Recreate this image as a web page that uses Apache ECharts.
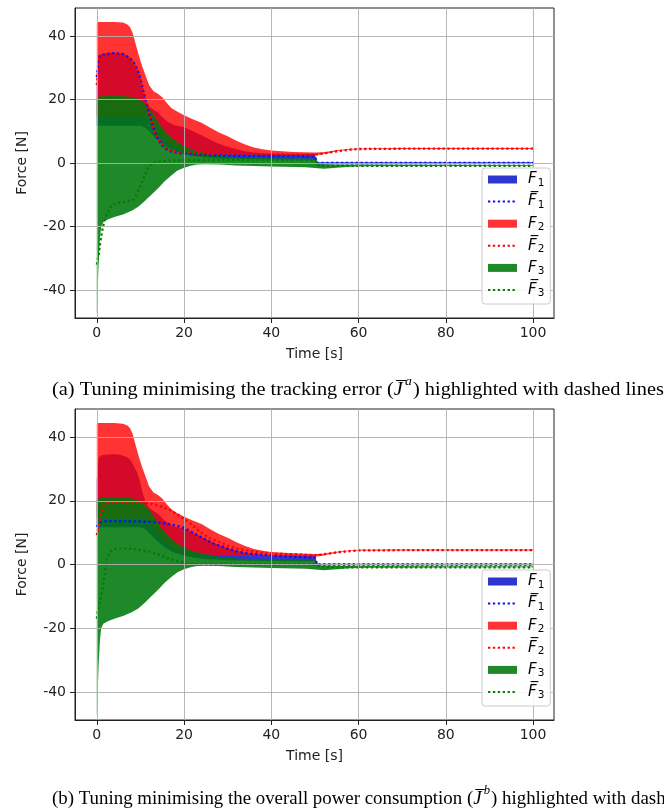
<!DOCTYPE html>
<html lang="en">
<head>
	<meta charset="UTF-8">
	<script src="https://cdn.jsdelivr.net/npm/echarts@6/dist/echarts.min.js"></script>
	<title>Force bands</title>
	<style>
		html, body { margin: 0; padding: 0; background: #fff; }
	</style>
</head>
<body>
<div id="main" style="width: 664px;height:812px;"></div>
<script type="text/javascript">
	// tick positions
	var xTicks = [0, 20, 40, 60, 80, 100];
	var yTicks = [-40, -20, 0, 20, 40];

	// envelope of F1 over all tunings [t, N]
	var f1Upper = [[0,26.5],[0.4,33.5],[1,34.3],[3,34.6],[5,34.5],[6.5,34],[7.6,33],[8.4,31.2],[9.2,29],[9.8,26.5],[10.5,22.5],[11.2,19.5],[12,17.8],[13,16.8],[14,16],[15,14.5],[16,13.3],[17,12.4],[18,11.8],[20,11.3],[22,10],[24,8.7],[26,7.3],[28,6.1],[30,5.1],[32,4.3],[34,3.7],[36,3.3],[40,2.9],[45,2.8],[50,2.8],[50.5,0.2],[100,0.2]];
	var f1Lower = [[0,11.7],[10,11.7],[11,11.2],[12,10],[13,8.5],[14,7.2],[15,6],[16,5],[17,4.2],[18,3.6],[20,2.8],[22,2.2],[25,1.7],[30,1.3],[40,1.1],[50,1.0],[50.5,-0.2],[100,-0.2]];
	// envelope of F2
	var f2Upper = [[0,44],[0.3,44.4],[4,44.4],[6,44.2],[7,43.6],[7.6,42.8],[8.2,41],[8.8,38],[9.6,34],[10.4,30.5],[11.2,27.5],[12,24.5],[13,22.6],[14,21.8],[15,20.7],[16,19],[17,17.4],[18,16.5],[20,15],[22,13.8],[24,12.7],[26,11.1],[28,9.6],[30,8.4],[32,7],[34,5.8],[36,4.9],[38,4.3],[40,3.9],[45,3.5],[50,3.3],[52,3.4],[55,4],[58,4.4],[60,4.6],[70,4.7],[100,4.7]];
	var f2Lower = [[0,14.6],[10.5,14.6],[11.5,14],[12.5,12.5],[13.5,10.5],[14.5,8.8],[15.5,7.3],[16.5,6.2],[17.5,5.3],[18.5,4.6],[20,4],[22,3.5],[25,3.1],[30,2.8],[40,2.6],[50,2.5],[51,2.6],[53,3.1],[55,3.7],[58,4.2],[60,4.3],[70,4.4],[100,4.4]];
	// envelope of F3
	var f3Upper = [[0,20.3],[1,21],[5,21.2],[8,20.8],[9.5,20.2],[10.5,19.3],[11.5,18],[12.5,16.3],[13.5,14.2],[14.5,12],[15.5,10.2],[16.5,8.7],[17.5,7.5],[18.5,6.5],[20,5.3],[22,4.2],[24,3.4],[26,2.8],[28,2.4],[32,1.9],[40,1.5],[50,1.3],[51,-0.3],[55,-0.5],[100,-0.6]];
	var f3Lower = [[0,-48],[0.2,-40],[0.4,-32],[0.7,-24],[1,-20],[1.5,-18.6],[2.5,-17.8],[4,-17],[6,-16.2],[8,-15],[9.5,-13.8],[11,-12],[12.5,-10],[14,-8],[15.5,-5.8],[17,-4],[18.5,-2.4],[20,-1.5],[21.5,-0.9],[23,-0.5],[25,-0.4],[28,-0.5],[32,-0.8],[40,-1.1],[48,-1.3],[50,-1.6],[52,-1.8],[55,-1.5],[58,-1.2],[62,-1.0],[100,-0.9]];

	// (a) tuning minimising the tracking error
	var aF1 = [[0,27],[0.3,30.5],[0.7,33.8],[2,34.3],[4,34.6],[6,34.3],[7.5,33.2],[8.5,31.5],[9.3,29.5],[10,26.5],[10.6,23],[11.2,19.8],[11.8,16.5],[12.5,13.2],[13.2,10.2],[14,7.5],[15,5.5],[16,4.3],[17,3.6],[19,3.1],[22,2.8],[26,2.5],[30,2.3],[40,2.2],[50,2.1],[50.5,0],[100,0]];
	var aF2 = [[0,24.5],[0.3,29],[0.7,33.5],[2,34.2],[4,34.5],[6,34.2],[7.5,33],[8.5,31.3],[9.3,29.3],[10,26.3],[10.6,22.8],[11.2,19.6],[11.8,16.3],[12.5,13.2],[13.2,10.3],[14,7.8],[15,5.8],[16,4.6],[17,3.9],[19,3.4],[22,3.1],[26,2.9],[30,2.8],[40,2.7],[50,2.6],[52,3.0],[55,3.7],[58,4.2],[60,4.4],[70,4.5],[100,4.5]];
	var aF3 = [[0,-32],[0.4,-29],[0.8,-25],[1.2,-21.5],[1.6,-19],[2.3,-15.8],[3.5,-13.2],[5,-12.5],[6.5,-12.2],[8.4,-11.5],[9.2,-9.8],[10,-7.2],[10.8,-4.5],[11.6,-2],[12.5,-0.2],[13.5,0.3],[16,0.7],[20,0.9],[30,1.0],[50,1.0],[51,-0.9],[100,-0.9]];

	// (b) tuning minimising the overall power consumption
	var bF1 = [[0,11.8],[0.5,12.8],[1,13.3],[2,13.6],[6,13.6],[10,13.5],[12,13.4],[14,13.2],[17,12.6],[20,11.5],[22,10],[24.4,8.2],[26.7,6.6],[28.2,5.9],[30,5],[32,4.1],[34,3.6],[36,3.3],[40,2.9],[45,2.4],[50,2.2],[50.5,0],[100,0]];
	var bF2 = [[0,9.2],[0.4,11.8],[0.9,15.5],[1.5,18.5],[2.5,19.4],[6,19.5],[10,19.4],[12,19.2],[14.5,18.3],[16.8,17.1],[19,15.3],[21.4,12.9],[23.7,10.2],[26,8.2],[28.2,7],[30,6],[32,5],[36,4.0],[40,3.4],[45,3.2],[50,2.9],[52,3.2],[55,3.8],[58,4.2],[60,4.4],[70,4.5],[100,4.5]];
	var bF3 = [[0,-17],[0.2,-15],[0.8,-11],[1.5,-6],[2,-1],[2.3,2],[3,4],[4,4.8],[5,5],[7,5],[9.2,4.7],[12.2,4],[14.5,3],[16.8,1.6],[19,0.9],[20.6,0.2],[25,0],[50,0],[51,-0.8],[60,-0.9],[100,-0.9]];

	var col1 = 'rgba(0,10,200,0.82)';
	var col2 = 'rgba(255,0,0,0.8)';
	var col3 = 'rgba(0,119,11,0.88)';
	var dot1 = '#1010ee';
	var dot2 = '#ff0000';
	var dot3 = '#008000';
	var ink = '#222';
	var font = 'DejaVu Sans';

	var chart = echarts.init(document.getElementById('main'));

	// filled band between two curves, mapped through the axes
	function band(name, upper, lower, color, idx) {
		return {
			type: 'custom',
			name: name,
			xAxisIndex: idx,
			yAxisIndex: idx,
			z: 1,
			silent: true,
			itemStyle: {color: color},
			data: [[50, 0]],
			renderItem: function (params, api) {
				var pts = [];
				upper.forEach(function (p) { pts.push(api.coord(p)); });
				lower.slice().reverse().forEach(function (p) { pts.push(api.coord(p)); });
				return {type: 'polygon', shape: {points: pts}, style: {fill: color}};
			}
		};
	}

	function dotted(name, data, color, idx) {
		return {
			type: 'line',
			name: name,
			xAxisIndex: idx,
			yAxisIndex: idx,
			z: 2,
			symbol: 'none',
			silent: true,
			data: data,
			lineStyle: {color: color, width: 2.3, type: [2.3, 2.6], cap: 'butt'},
			itemStyle: {color: color}
		};
	}

	function xAxisFor(idx) {
		return {
			type: 'value', gridIndex: idx, min: -5, max: 104.8, z: 3,
			name: 'Time [s]', nameLocation: 'middle', nameGap: 29,
			nameTextStyle: {fontSize: 14, color: ink, fontFamily: font},
			axisLine: {show: true, onZero: false, lineStyle: {color: ink, width: 1}},
			axisTick: {show: true, length: 5, customValues: xTicks, lineStyle: {color: ink}},
			axisLabel: {customValues: xTicks, fontSize: 14, color: ink, fontFamily: font, margin: 8},
			splitLine: {show: true, lineStyle: {color: 'rgba(176,176,176,0.9)', width: 1}}
		};
	}

	function yAxisFor(idx) {
		return {
			type: 'value', gridIndex: idx, min: -48.8, max: 48.8, z: 3,
			name: 'Force [N]', nameLocation: 'middle', nameGap: 46,
			nameTextStyle: {fontSize: 14, color: ink, fontFamily: font},
			axisLine: {show: true, onZero: false, lineStyle: {color: ink, width: 1}},
			axisTick: {show: true, length: 5, customValues: yTicks, lineStyle: {color: ink}},
			axisLabel: {customValues: yTicks, fontSize: 14, color: ink, fontFamily: font, margin: 9},
			splitLine: {show: true, lineStyle: {color: 'rgba(176,176,176,0.9)', width: 1}}
		};
	}

	function legendFor(top) {
		return {
			orient: 'vertical', left: 482, top: top,
			padding: [4, 6, 5, 5], itemGap: 5.6,
			itemWidth: 29, itemHeight: 8,
			backgroundColor: 'rgba(255,255,255,0.85)',
			borderColor: '#cccccc', borderWidth: 1, borderRadius: 3,
			selectedMode: false,
			data: [
				{name: 'F1', icon: 'rect', itemStyle: {color: col1}},
				{name: 'F1m', itemStyle: {opacity: 0}},
				{name: 'F2', icon: 'rect', itemStyle: {color: col2}},
				{name: 'F2m', itemStyle: {opacity: 0}},
				{name: 'F3', icon: 'rect', itemStyle: {color: col3}},
				{name: 'F3m', itemStyle: {opacity: 0}}
			],
			formatter: function (name) {
				var sub = name.charAt(1);
				var f = name.length > 2 ? 'F\u0305' : 'F';
				return '{f|' + f + '}{s|' + sub + '}';
			},
			textStyle: {
				color: '#000',
				rich: {
					f: {fontFamily: font, fontStyle: 'italic', fontSize: 15, lineHeight: 18, padding: [0, 0, 0, 6], color: '#000'},
					s: {fontFamily: font, fontSize: 10.5, padding: [7, 0, 0, 1], color: '#000'}
				}
			}
		};
	}

	var series = [];
	[[aF1, aF2, aF3], [bF1, bF2, bF3]].forEach(function (means, idx) {
		series.push(band('F1', f1Upper, f1Lower, col1, idx));
		series.push(band('F2', f2Upper, f2Lower, col2, idx));
		series.push(band('F3', f3Upper, f3Lower, col3, idx));
		series.push(dotted('F1m', means[0], dot1, idx));
		series.push(dotted('F2m', means[1], dot2, idx));
		series.push(dotted('F3m', means[2], dot3, idx));
	});

	var capRich = {
		j: {fontFamily: 'Liberation Serif', fontStyle: 'italic', fontSize: 18.5, color: '#000'},
		sup: {fontFamily: 'Liberation Serif', fontStyle: 'italic', fontSize: 12.5, padding: [0, 1, 17, 2], color: '#000'}
	};

	var option = {
		animation: false,
		backgroundColor: '#fff',
		grid: [
			{left: 75, top: 8, width: 479, height: 310, show: true, borderColor: ink, borderWidth: 1, backgroundColor: 'transparent'},
			{left: 75, top: 409, width: 479, height: 311, show: true, borderColor: ink, borderWidth: 1, backgroundColor: 'transparent'}
		],
		xAxis: [xAxisFor(0), xAxisFor(1)],
		yAxis: [yAxisFor(0), yAxisFor(1)],
		legend: [legendFor(168), legendFor(570)],
		series: series,
		graphic: [
			{
				type: 'text', x: 52, y: 390, scaleX: 1.1,
				style: {
					text: '(a) Tuning minimising the tracking error ({j|J\u0305}{sup|a}) highlighted with dashed lines',
					fontFamily: 'Liberation Serif', fontSize: 18.5, fill: '#000', verticalAlign: 'middle',
					rich: capRich
				}
			},
			{
				type: 'text', x: 52, y: 799, scaleX: 1.02,
				style: {
					text: '(b) Tuning minimising the overall power consumption ({j|J\u0305}{sup|b}) highlighted with dashed lines',
					fontFamily: 'Liberation Serif', fontSize: 18.5, fill: '#000', verticalAlign: 'middle',
					rich: capRich
				}
			}
		]
	};
	chart.setOption(option);
</script>
</body>
</html>
